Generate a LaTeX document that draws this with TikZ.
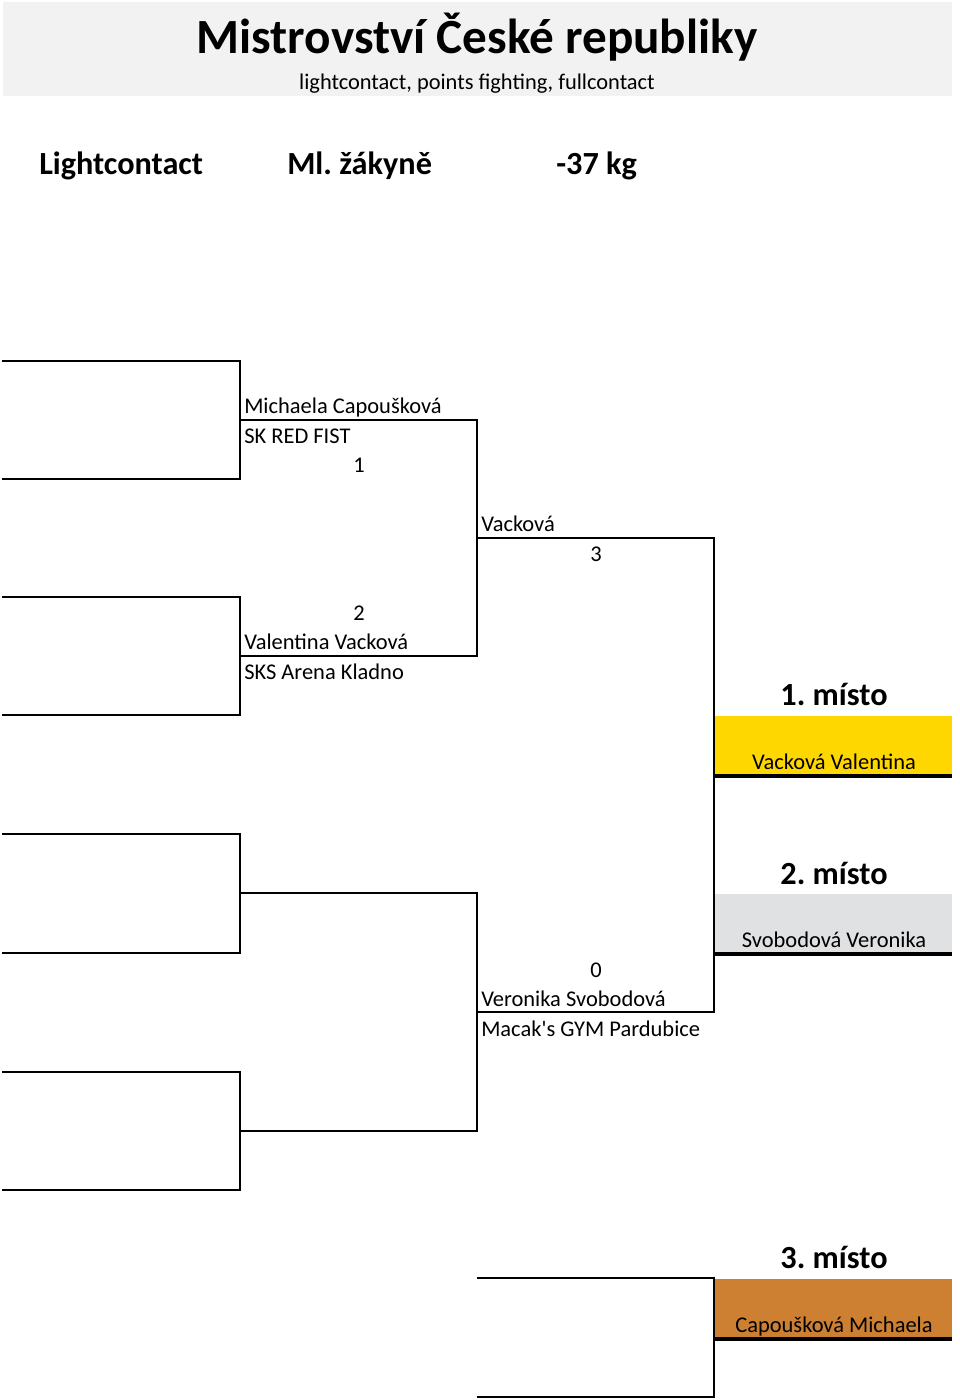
\documentclass[tikz,border=0pt]{standalone}
\usepackage{fontspec}
\setmainfont{Carlito}
\newfontfamily\rawfont{Carlito}
\definecolor{hdr}{RGB}{242,242,242}
\definecolor{gold}{RGB}{255,215,0}
\definecolor{silver}{RGB}{224,225,227}
\definecolor{bronze}{RGB}{205,127,50}
\frenchspacing
\begin{document}
\begin{tikzpicture}[x=0.75pt,y=-0.75pt,
  br/.style={draw=black,line width=1.5pt,line join=miter},
  thick bar/.style={draw=black,line width=2.8pt},
  txt/.style={inner sep=0pt,anchor=base west,font=\fontsize{16.85}{19}\selectfont},
  ctxt/.style={inner sep=0pt,anchor=base,font=\fontsize{16.85}{19}\selectfont},
  big/.style={inner sep=0pt,anchor=base,font=\fontsize{24.2}{28}\selectfont\bfseries},
  hd/.style={inner sep=0pt,anchor=base west,font=\fontsize{24.2}{28}\selectfont\bfseries}]
\useasboundingbox (0,0) rectangle (960,1400);
\fill[white] (0,0) rectangle (960,1400);
% header
\fill[hdr] (3,2) rectangle (952,96);
\node[inner sep=0pt,anchor=base,font=\fontsize{36.9}{42}\selectfont\bfseries] (title) at (477,53) {Mistrovství České republiky};
\node[inner sep=0pt,anchor=base,font=\fontsize{16.8}{19}\selectfont] (sub) at (477,89) {lightcontact, points fighting, fullcontact};
\node[hd] (cat1) at (39,174) {Lightcontact};
\node[hd] (cat2) at (287,174) {Ml. žákyně};
\node[hd] (cat3) at (556,174) {-37 kg};
% round 1
\coordinate (s1a) at (2,361); \coordinate (s1b) at (240,361);
\coordinate (s2a) at (2,479); \coordinate (s2b) at (240,479);
\coordinate (s3a) at (2,597); \coordinate (s3b) at (240,597);
\coordinate (s4a) at (2,715); \coordinate (s4b) at (240,715);
\coordinate (s5a) at (2,834); \coordinate (s5b) at (240,834);
\coordinate (s6a) at (2,953); \coordinate (s6b) at (240,953);
\coordinate (s7a) at (2,1072); \coordinate (s7b) at (240,1072);
\coordinate (s8a) at (2,1190); \coordinate (s8b) at (240,1190);
\draw[br] (s1a) -- (s1b) -- (s2b) -- (s2a);
\draw[br] (s3a) -- (s3b) -- (s4b) -- (s4a);
\draw[br] (s5a) -- (s5b) -- (s6b) -- (s6a);
\draw[br] (s7a) -- (s7b) -- (s8b) -- (s8a);
% round 2
\coordinate (q1a) at (240,420); \coordinate (q1b) at (477,420);
\coordinate (q2a) at (240,656); \coordinate (q2b) at (477,656);
\coordinate (q3a) at (240,893); \coordinate (q3b) at (477,893);
\coordinate (q4a) at (240,1131); \coordinate (q4b) at (477,1131);
\draw[br] (q1a) -- (q1b) -- (q2b) -- (q2a);
\draw[br] (q3a) -- (q3b) -- (q4b) -- (q4a);
% final
\coordinate (f1a) at (477,538); \coordinate (f1b) at (714,538);
\coordinate (f2a) at (477,1012); \coordinate (f2b) at (714,1012);
\draw[br] (f1a) -- (f1b) -- (f2b) -- (f2a);
% third place
\coordinate (t1a) at (477,1278); \coordinate (t1b) at (714,1278);
\coordinate (t2a) at (477,1397); \coordinate (t2b) at (714,1397);
\draw[br] (t1a) -- (t1b) -- (t2b) -- (t2a);
% medal boxes
\fill[gold] (715,716) rectangle (952,776);
\fill[silver] (715,894) rectangle (952,953);
\fill[bronze] (715,1279) rectangle (952,1338);
\coordinate (g1) at (714,776); \coordinate (g2) at (952,776);
\coordinate (v1) at (714,954); \coordinate (v2) at (952,954);
\coordinate (b1) at (714,1339); \coordinate (b2) at (952,1339);
\draw[thick bar] (g1) -- (g2);
\draw[thick bar] (v1) -- (v2);
\draw[thick bar] (b1) -- (b2);
% texts
\node[txt] (n1) at (244,413) {Michaela Capoušková};
\node[txt] (c1) at (244,443) {SK RED FIST};
\node[ctxt] (r1) at (359,472) {1};
\node[txt] (w1) at (481,531) {Vacková};
\node[ctxt] (r3) at (596,561) {3};
\node[ctxt] (r2) at (359,620) {2};
\node[txt] (n2) at (244,649) {Valentina Vacková};
\node[txt] (c2) at (244,679) {SKS Arena Kladno};
\node[ctxt] (r0) at (596,977) {0};
\node[txt] (n3) at (481,1006) {Veronika Svobodová};
\node[txt] (c3) at (481,1036) {\rawfont Macak's GYM Pardubice};
\node[big] (p1) at (834,705) {1. místo};
\node[ctxt] (p1n) at (834,769) {Vacková Valentina};
\node[big] (p2) at (834,884) {2. místo};
\node[ctxt] (p2n) at (834,947) {Svobodová Veronika};
\node[big] (p3) at (834,1268) {3. místo};
\node[ctxt] (p3n) at (834,1332) {Capoušková Michaela};
\end{tikzpicture}
\end{document}
